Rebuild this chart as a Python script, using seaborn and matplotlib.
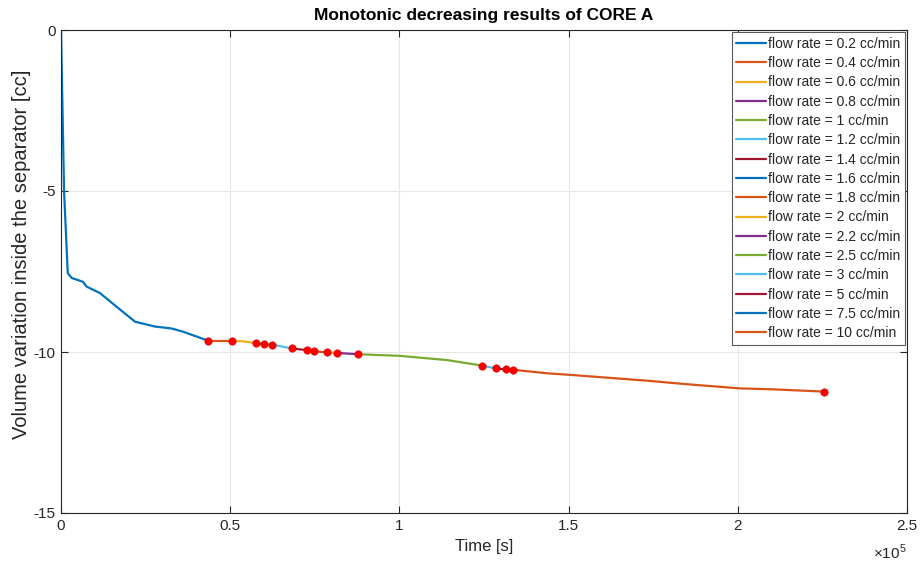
import numpy as np
import pandas as pd
import matplotlib
matplotlib.use("Agg")
import matplotlib.pyplot as plt
import seaborn as sns
from matplotlib.ticker import FuncFormatter, FixedLocator

# ---- data ----
time_s = [0, 900, 2000, 3150, 6500, 7600, 11500, 16500, 21900, 27800, 32700, 36100,
          43500, 50400, 54000, 57600, 60000, 62400, 68200, 72600, 74800, 78700,
          81700, 87900, 100200, 114000, 124300, 128400, 131400, 133500, 143500,
          150400, 173100, 184900, 200600, 210500, 225500]
volume_cc = [0.0, -5.0, -7.55, -7.70, -7.82, -7.97, -8.17, -8.60, -9.06, -9.21, -9.27, -9.37,
             -9.65, -9.65, -9.67, -9.73, -9.76, -9.77, -9.89, -9.94, -9.98, -10.01,
             -10.03, -10.07, -10.12, -10.25, -10.42, -10.51, -10.54, -10.55, -10.66,
             -10.71, -10.89, -11.00, -11.13, -11.16, -11.23]
flow_rates = ["0.2", "0.4", "0.6", "0.8", "1", "1.2", "1.4", "1.6", "1.8", "2",
              "2.2", "2.5", "3", "5", "7.5", "10"]
segment_end_times = [43500, 50400, 57600, 60000, 62400, 68200, 72600, 74800, 78700,
                     81700, 87900, 124300, 128400, 131400, 133500, 225500]

matlab_colors = ["#0072BD", "#D95319", "#EDB120", "#7E2F8E", "#77AC30", "#4DBEEE", "#A2142F"]

# ---- build long table ----
rows = []
start = 0
labels = []
for i, (fr, end) in enumerate(zip(flow_rates, segment_end_times)):
    lab = f"flow rate = {fr} cc/min"
    labels.append(lab)
    for t, v in zip(time_s, volume_cc):
        if start <= t <= end:
            rows.append({"t": t, "v": v, "seg": lab})
    start = end
df = pd.DataFrame(rows)
palette = {lab: matlab_colors[i % 7] for i, lab in enumerate(labels)}

ends = pd.DataFrame({"t": segment_end_times,
                     "v": [volume_cc[time_s.index(t)] for t in segment_end_times]})

# ---- style ----
sns.set_theme(style="white")
plt.rcParams["font.family"] = ["Liberation Sans", "DejaVu Sans"]
plt.rcParams["mathtext.fontset"] = "custom"
plt.rcParams["mathtext.rm"] = "Liberation Sans"

fig = plt.figure(figsize=(9.22, 5.64), dpi=100)
ax = fig.add_axes([61 / 922, 1 - 513 / 564, (907 - 61) / 922, (513 - 30) / 564])

sns.lineplot(data=df, x="t", y="v", hue="seg", hue_order=labels, palette=palette,
             sort=False, estimator=None, linewidth=1.6, ax=ax)
sns.scatterplot(data=ends, x="t", y="v", color="#FF0000", s=28, edgecolor="#E00000",
                linewidth=0.5, zorder=5, ax=ax, legend=False)

ax.set_xlim(0, 2.5e5)
ax.set_ylim(-15, 0)
ax.xaxis.set_major_locator(FixedLocator([0, 0.5e5, 1e5, 1.5e5, 2e5, 2.5e5]))
ax.yaxis.set_major_locator(FixedLocator([-15, -10, -5, 0]))
ax.xaxis.set_major_formatter(FuncFormatter(lambda x, p: f"{x/1e5:g}"))
ax.yaxis.set_major_formatter(FuncFormatter(lambda y, p: f"{y:g}"))
ax.grid(True, color="#E6E6E6", linewidth=0.8)
ax.set_axisbelow(True)
for sp in ax.spines.values():
    sp.set_color("#262626")
    sp.set_linewidth(0.8)
ax.tick_params(direction="in", length=5, width=0.8, colors="#262626", labelsize=11,
               top=True, right=True, bottom=True, left=True, pad=4)

ax.set_xlabel("Time [s]", fontsize=12, color="#262626", labelpad=5)
ax.set_ylabel("Volume variation inside the separator [cc]", fontsize=14.5, color="#262626",
              labelpad=3)
ax.yaxis.set_label_coords(-0.036, 0.536)
ax.set_title("Monotonic decreasing results of CORE A", fontsize=12.5, fontweight="bold",
             color="black", pad=7)
ax.text(1.0, -0.062, r"$\times10^{5}$", transform=ax.transAxes, ha="right", va="top",
        fontsize=11, color="#262626")

handles, labs = ax.get_legend_handles_labels()
leg = ax.legend(handles, labs, loc="upper right", fontsize=10, frameon=True, fancybox=False,
                framealpha=1, edgecolor="#5A5A5A", borderaxespad=0.15, handlelength=2.1,
                handletextpad=0.15, labelspacing=0.38, borderpad=0.35)
leg.get_frame().set_linewidth(0.8)
for line in leg.get_lines():
    line.set_linewidth(1.6)

fig.savefig("out.png", dpi=100, facecolor="white")
